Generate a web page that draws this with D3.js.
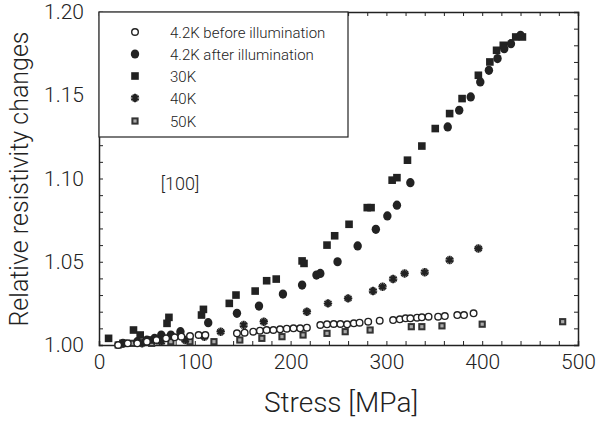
<!DOCTYPE html>
<html>
<head>
<meta charset="utf-8">
<script src="https://cdn.jsdelivr.net/npm/d3@7"></script>
<style>
  body { margin: 0; background: #fff; }
  text { font-family: Roboto, "Liberation Sans", sans-serif; font-weight: 300; fill: #222; }
</style>
</head>
<body>
<div id="chart"></div>
<script>
// Data: [stress MPa, relative resistivity]
var before42K = [[20,1.000],[30,1.001],[40,1.001],[50,1.002],[60,1.003],[70,1.004],
  [79,1.0046],[86,1.005],[95,1.0054],[104,1.006],[111,1.006],[144,1.007],[152,1.0074],
  [161,1.008],[168,1.0086],[175,1.009],[182,1.009],[189,1.0094],[196,1.0098],[203,1.010],
  [210,1.010],[217,1.0104],[231,1.012],[238,1.0124],[245,1.0126],[252,1.0126],[259,1.0124],
  [266,1.013],[272,1.0134],[281,1.014],[293,1.0146],[307,1.015],[314,1.0154],[320,1.016],
  [325,1.016],[332,1.0164],[337,1.0166],[344,1.017],[354,1.017],[361,1.0174],[374,1.018],
  [381,1.018],[391,1.019]];
var after42K = [[25,1.001],[40,1.002],[50,1.003],[58,1.004],[65,1.006],[75,1.006],
  [85,1.008],[114,1.0134],[144,1.019],[167,1.0234],[192,1.0306],[212,1.036],[227,1.042],
  [231,1.043],[249,1.050],[270,1.0595],[289,1.0695],[301,1.0775],[311,1.084],[325,1.0975],
  [364,1.131],[376,1.141],[388,1.149],[398,1.158],[407,1.165],[416,1.172],[423,1.178],
  [430,1.181],[440,1.186]];
var k30 = [[10,1.004],[25,1.001],[36,1.009],[43,1.006],[55,1.003],[71,1.013],[73,1.0166],
  [107,1.018],[109,1.0214],[136,1.025],[143,1.030],[163,1.0324],[175,1.0386],[185,1.0396],
  [212,1.0505],[214,1.049],[238,1.060],[246,1.0656],[261,1.0725],[280,1.0825],[284,1.0825],
  [306,1.099],[311,1.1005],[322,1.111],[337,1.1195],[351,1.130],[366,1.139],[379,1.148],
  [396,1.162],[408,1.170],[415,1.177],[422,1.180],[435,1.185],[442,1.185]];
var k40 = [[45,1.001],[65,1.002],[90,1.003],[110,1.005],[127,1.008],[151,1.012],[172,1.014],
  [217,1.020],[239,1.025],[260,1.028],[286,1.0324],[296,1.035],[307,1.0396],[319,1.043],
  [340,1.0437],[366,1.051],[396,1.058]];
var k50 = [[20,1.000],[35,1.001],[55,1.001],[75,1.002],[95,1.002],[120,1.002],[147,1.003],
  [170,1.004],[191,1.005],[213,1.006],[238,1.007],[257,1.008],[283,1.009],[326,1.011],
  [337,1.011],[358,1.0115],[400,1.0125],[484,1.014]];

var legendLabels = ["4.2K before illumination", "4.2K after illumination", "30K", "40K", "50K"];
var markerTypes = ["open", "filled", "square", "star", "dotsquare"];
var xTicks = [0, 100, 200, 300, 400, 500];
var yTicks = [1.00, 1.05, 1.10, 1.15, 1.20];

var svgWidth = 600;
var svgHeight = 427;

var svg = d3.select("#chart")
  .append("svg")
  .attr("width", svgWidth)
  .attr("height", svgHeight);

var xScale = d3.scaleLinear().domain([0, 500]).range([99, 578]);
var yScale = d3.scaleLinear().domain([1.00, 1.20]).range([345, 12]);

var ink = "#222";

// minor ticks on all four sides, pointing inward
var xMinor = d3.range(0, 501, 20);
var yMinor = d3.range(0, 21).map(d => 1 + d * 0.01);

function drawAxis(axis, transform) {
  var g = svg.append("g").attr("transform", transform).call(axis);
  g.select(".domain").attr("stroke", ink).attr("stroke-width", 1.5);
  g.selectAll(".tick line").attr("stroke", ink).attr("stroke-width", 1);
  return g;
}

drawAxis(d3.axisBottom(xScale).tickValues(xMinor).tickSize(-4).tickFormat(""), "translate(0,345)");
drawAxis(d3.axisTop(xScale).tickValues(xMinor).tickSize(-4).tickFormat(""), "translate(0,12)");
drawAxis(d3.axisLeft(yScale).tickValues(yMinor).tickSize(-4).tickFormat(""), "translate(99,0)");
drawAxis(d3.axisRight(yScale).tickValues(yMinor).tickSize(-4).tickFormat(""), "translate(578,0)");

// major labels
var xAxisG = svg.append("g")
  .attr("transform", "translate(0,345)")
  .call(d3.axisBottom(xScale).tickValues(xTicks).tickSize(0).tickPadding(9).tickFormat(d3.format("d")));
xAxisG.select(".domain").remove();
xAxisG.selectAll("text").style("font-size", "21px").attr("fill", ink);

var yAxisG = svg.append("g")
  .attr("transform", "translate(99,0)")
  .call(d3.axisLeft(yScale).tickValues(yTicks).tickSize(0).tickPadding(15).tickFormat(d3.format(".2f")));
yAxisG.select(".domain").remove();
yAxisG.selectAll("text").style("font-size", "21px").attr("fill", ink);

// axis titles
svg.append("text")
  .attr("transform", "translate(28,179) rotate(-90)")
  .attr("text-anchor", "middle")
  .style("font-size", "25px")
  .text("Relative resistivity changes");

svg.append("text")
  .attr("x", 341)
  .attr("y", 412)
  .attr("text-anchor", "middle")
  .style("font-size", "28px")
  .text("Stress [MPa]");

svg.append("text")
  .attr("x", 180)
  .attr("y", 190)
  .attr("text-anchor", "middle")
  .style("font-size", "18px")
  .text("[100]");

// marker drawing
function drawMarker(g, type, cx, cy) {
  if (type === "open") {
    g.append("circle").attr("cx", cx).attr("cy", cy).attr("r", 3.3)
      .attr("fill", "#fff").attr("stroke", ink).attr("stroke-width", 1.4);
  } else if (type === "filled") {
    g.append("ellipse").attr("cx", cx).attr("cy", cy).attr("rx", 4.2).attr("ry", 4.6)
      .attr("fill", ink);
  } else if (type === "square") {
    g.append("rect").attr("x", cx - 3.8).attr("y", cy - 3.8).attr("width", 7.6).attr("height", 7.6)
      .attr("fill", ink);
  } else if (type === "star") {
    g.append("path")
      .attr("d", d3.symbol().type(d3.symbolAsterisk).size(50)())
      .attr("transform", `translate(${cx},${cy})`)
      .attr("stroke", ink).attr("stroke-width", 2).attr("fill", "none");
    g.append("path")
      .attr("d", d3.symbol().type(d3.symbolAsterisk).size(50)())
      .attr("transform", `translate(${cx},${cy}) rotate(30)`)
      .attr("stroke", ink).attr("stroke-width", 1.2).attr("fill", "none");
  } else {
    g.append("rect").attr("x", cx - 3.6).attr("y", cy - 3.6).attr("width", 7.2).attr("height", 7.2)
      .attr("fill", "#333");
    g.append("rect").attr("x", cx - 1.6).attr("y", cy - 1.6).attr("width", 3.2).attr("height", 3.2)
      .attr("fill", "#aaa");
  }
}

var series = [before42K, after42K, k30, k40, k50];
var pointsG = svg.append("g");
// draw in an order close to the original overprinting
[4, 3, 2, 1, 0].forEach(function(i) {
  series[i].forEach(function(d) {
    drawMarker(pointsG, markerTypes[i], xScale(d[0]), yScale(d[1]));
  });
});

// legend
var legend = svg.append("g");
legend.append("rect")
  .attr("x", 99).attr("y", 12).attr("width", 249).attr("height", 125)
  .attr("fill", "#fff").attr("stroke", ink).attr("stroke-width", 1.2);

var legendRows = [32, 54, 76, 98, 121];
legendLabels.forEach(function(label, i) {
  drawMarker(legend, markerTypes[i], 135, legendRows[i]);
  legend.append("text")
    .attr("x", 170)
    .attr("y", legendRows[i] + 5.5)
    .style("font-size", "15px")
    .text(label);
});
</script>
</body>
</html>
